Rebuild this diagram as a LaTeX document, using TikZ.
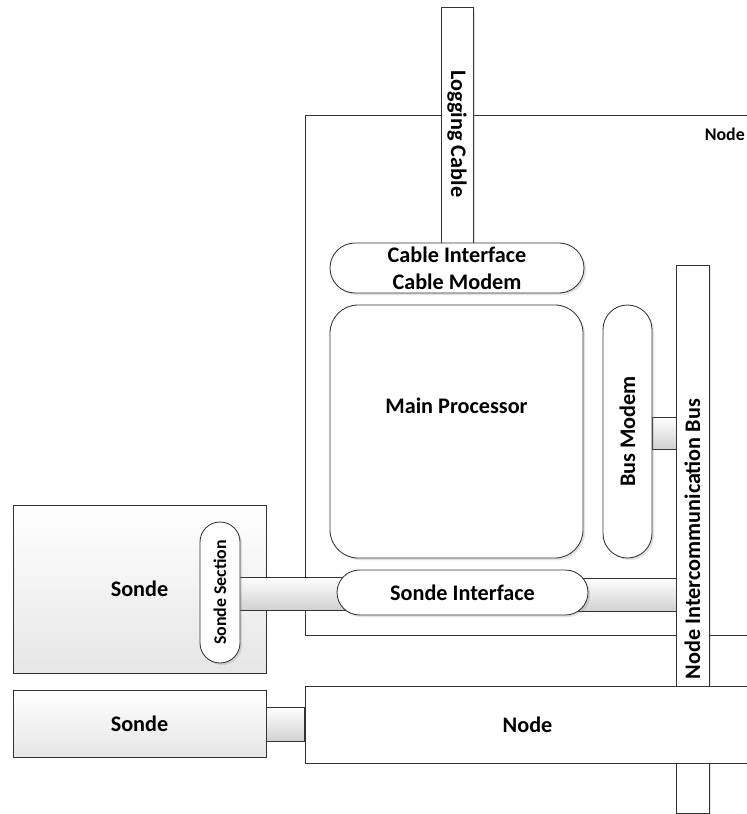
\documentclass[tikz,border=0pt]{standalone}
\usepackage{fontspec}
\setmainfont{Carlito}
\usetikzlibrary{shapes.misc,calc,shadows}
\pgfdeclarelayer{back}
\pgfdeclarelayer{bars}
\pgfsetlayers{back,bars,main}

\newcommand{\pxl}{0.025cm}

\begin{document}
\begin{tikzpicture}[
  x=\pxl, y=-\pxl,
  bigfont/.style={font=\fontsize{15.8pt}{19.5pt}\selectfont\bfseries},
  smallfont/.style={font=\fontsize{12.7pt}{15pt}\selectfont\bfseries},
  edge/.style={draw=black!80,line width=0.6pt},
  shade/.style={drop shadow={shadow xshift=1.5pt,shadow yshift=-1.5pt,opacity=0.22}},
  box/.style={edge,fill=white,inner sep=0pt,bigfont},
  pill/.style={box,rounded rectangle,shade},
  greybox/.style={edge,top color=white,bottom color=black!10,inner sep=0pt,bigfont},
  bar/.style={edge,top color=white,bottom color=black!18},
]
\useasboundingbox (0,0) rectangle (746,814);

% ===================================================================
% Containers, cable and bus
% ===================================================================
\begin{pgfonlayer}{back}
\node[box,minimum width=445*\pxl,minimum height=520*\pxl] (nodeupper) at (527.5,375) {};
\node[smallfont,anchor=base east,inner sep=0pt] (nodelbl) at (745,141) {Node};

\node[box,shade,rotate=-90,minimum width=236*\pxl,minimum height=32*\pxl] (logcable) at (457,125) {\hspace*{12.8pt}Logging Cable};
\node[box,shade,rotate=90,minimum width=548*\pxl,minimum height=33*\pxl] (bus) at (692.5,539) {Node Intercommunication Bus};

\node[box,minimum width=445*\pxl,minimum height=77*\pxl] (nodelow) at (527.5,724.5) {Node};

\node[greybox,minimum width=253*\pxl,minimum height=168*\pxl] (sondeA) at (139.5,589) {Sonde};
\node[greybox,minimum width=253*\pxl,minimum height=67*\pxl] (sondeB) at (139.5,723.5) {Sonde};
\end{pgfonlayer}

% ===================================================================
% Node blocks
% ===================================================================
\node[pill,minimum width=254*\pxl,minimum height=50*\pxl,align=center] (cableif) at (457,268) {Cable Interface\\Cable Modem};
\node[box,shade,rounded corners=0.7cm,minimum width=253*\pxl,minimum height=253*\pxl] (mainproc) at (456.5,431.5) {};
\node[bigfont] (mainlbl) at ($(mainproc.center)+(0,-26)$) {Main Processor};
\node[pill,rotate=90,minimum width=253*\pxl,minimum height=49*\pxl] (busmodem) at (627.5,431.5) {Bus Modem};
\node[pill,minimum width=251*\pxl,minimum height=45*\pxl] (sondeif) at (462.5,592.5) {Sonde Interface};
\node[pill,smallfont,rotate=90,minimum width=141*\pxl,minimum height=40*\pxl] (sondesec) at (220,592.5) {Sonde Section};

% ===================================================================
% Links (under the blocks)
% ===================================================================
\begin{pgfonlayer}{bars}
\draw[bar] ($(sondesec.center)+(0,-15.5)$) rectangle ($(sondeif.center)+(0,17.5)$);
\draw[bar] ($(sondeif.center)+(0,-14.5)$) rectangle ($(sondeif.center -| bus.center)+(-16.5,18.5)$);
\draw[bar] ($(busmodem.center)+(24.5,-14.5)$) rectangle ($(busmodem.center -| bus.center)+(-16.5,17.5)$);
\draw[bar] ($(sondeB.east)+(0,-16.5)$) rectangle ($(nodelow.west)+(0,16.5)$);
\end{pgfonlayer}

\end{tikzpicture}
\end{document}
